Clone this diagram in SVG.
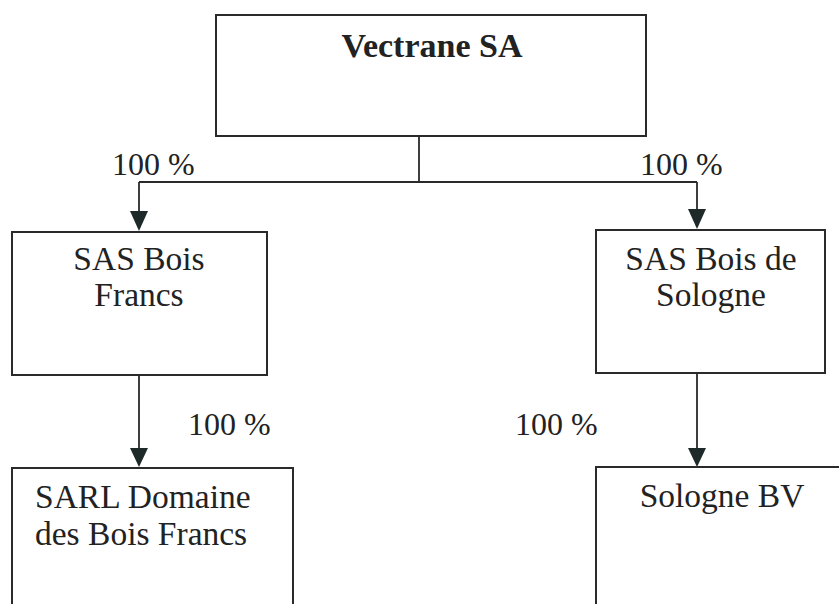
<svg xmlns="http://www.w3.org/2000/svg" width="839" height="604" viewBox="0 0 839 604">
<defs>
<style>
.box{fill:#fff;stroke:#2a2a2a;stroke-width:2}
.ln{fill:none;stroke:#2a2a2a;stroke-width:1.8}
.ah{fill:#1e2a2a}
</style>
</defs>
<rect width="839" height="604" fill="#fff"/>
<g font-family="Liberation Serif, Times New Roman, DejaVu Serif, serif" fill="#222">
<g id="connectors">
<path class="ln" d="M419,136 V182"/>
<path class="ln" d="M139,182 H697"/>
<line class="ln" x1="139" y1="182" x2="139" y2="212"/>
<path class="ah" d="M130,211 L148,211 L139,231 Z"/>
<line class="ln" x1="697" y1="182" x2="697" y2="210"/>
<path class="ah" d="M688,209 L706,209 L697,229 Z"/>
<line class="ln" x1="139" y1="375" x2="139" y2="449"/>
<path class="ah" d="M130,448 L148,448 L139,467 Z"/>
<line class="ln" x1="697" y1="373" x2="697" y2="449"/>
<path class="ah" d="M688,448 L706,448 L697,467 Z"/>
<g font-size="32">
<text x="112" y="175">100 %</text>
<text x="640" y="175">100 %</text>
<text x="188" y="435">100 %</text>
<text x="515" y="435">100 %</text>
</g>
</g>
<g id="vectrane">
<rect class="box" x="216" y="15" width="430" height="121"/>
<text x="432" y="57" text-anchor="middle" font-size="34" font-weight="bold">Vectrane SA</text>
</g>
<g id="bois-francs" font-size="33.5">
<rect class="box" x="12" y="232" width="255" height="143"/>
<text x="139" y="270" text-anchor="middle">SAS Bois</text>
<text x="139" y="306" text-anchor="middle">Francs</text>
</g>
<g id="bois-sologne" font-size="33.5">
<rect class="box" x="596" y="230" width="229" height="143"/>
<text x="711" y="270" text-anchor="middle">SAS Bois de</text>
<text x="711" y="306" text-anchor="middle">Sologne</text>
</g>
<g id="sarl-domaine" font-size="33.5">
<rect class="box" x="12" y="468" width="281" height="160"/>
<text x="35" y="508">SARL Domaine</text>
<text x="35" y="545">des Bois Francs</text>
</g>
<g id="sologne-bv" font-size="33.5">
<rect class="box" x="596" y="467" width="260" height="160"/>
<text x="722" y="507" text-anchor="middle">Sologne BV</text>
</g>
</g>
</svg>
